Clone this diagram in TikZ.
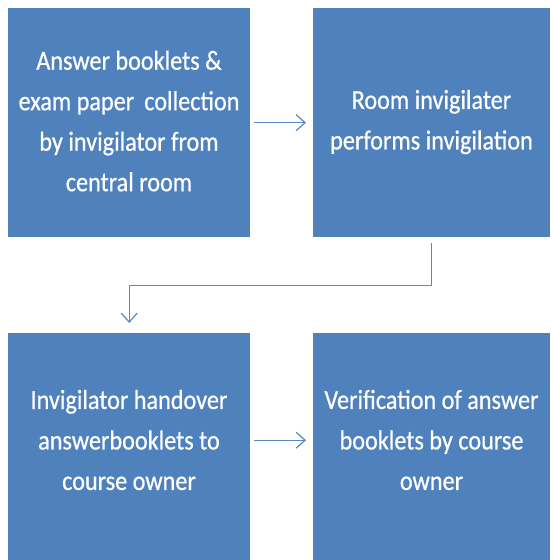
\documentclass[tikz,border=0pt]{standalone}
\usepackage{fontspec}
\setmainfont{Carlito}[FakeStretch=0.88,FakeBold=0.6]
\usetikzlibrary{arrows.meta}
\definecolor{boxblue}{HTML}{4F81BD}
\definecolor{arrblue}{HTML}{5B87C0}
\tikzset{
  box/.style={rectangle, fill=boxblue, draw=none, anchor=north west, inner sep=0pt},
  txt/.style={text=white, align=center, font=\fontsize{27.5}{40.5}\selectfont, inner sep=0pt},
  arr/.style={draw=arrblue, line width=1.4pt, -{Straight Barb[length=9pt,width=16pt,line width=1.2pt]}}
}
\begin{document}
\begin{tikzpicture}[x=1pt,y=-1pt]
\useasboundingbox (0,0) rectangle (550,560);
\node[box, minimum width=242pt, minimum height=229pt] (a) at (8,8) {};
\node[box, minimum width=237pt, minimum height=229pt] (b) at (313,8) {};
\node[box, minimum width=242pt, minimum height=227pt] (c) at (8,333) {};
\node[box, minimum width=237pt, minimum height=227pt] (d) at (313,333) {};
\node[txt] (ta) at (129,121) {Answer booklets \&\\exam paper\ \,collection\\by invigilator from\\central room};
\node[txt] (tb) at (431.5,122) {Room invigilater\\performs invigilation};
\node[txt] (tc) at (129,440) {Invigilator handover\\answerbooklets to\\course owner};
\node[txt] (td) at (431.5,440) {Verification of answer\\booklets by course\\owner};
\draw[arr] ([xshift=4pt]a.east) -- ([xshift=-7pt]b.west);
\draw[arr] ([yshift=-6pt]b.south) -- ++(0,42) -| ([yshift=10pt]c.north);
\draw[arr] ([xshift=4pt,yshift=6.5pt]c.east) -- ([xshift=-7pt,yshift=6.5pt]d.west);
\end{tikzpicture}
\end{document}
